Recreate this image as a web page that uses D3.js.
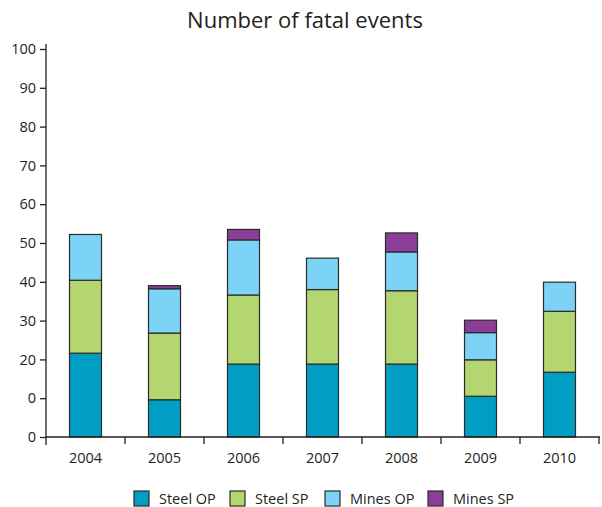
<!DOCTYPE html>
<html>
<head>
<meta charset="utf-8">
<script src="https://cdn.jsdelivr.net/npm/d3@7"></script>
<style>
  html, body { margin: 0; padding: 0; background: #fff; }
  svg { display: block; font-family: "Open Sans", "DejaVu Sans", sans-serif; }
</style>
</head>
<body>
<svg id="chart" width="602" height="507"></svg>
<script>
// Fatal events per year, split by sector and employment type
const years = ["2004", "2005", "2006", "2007", "2008", "2009", "2010"];
const seriesNames = ["Steel OP", "Steel SP", "Mines OP", "Mines SP"];
const steelOP = [21.6, 9.6, 18.8, 18.8, 18.8, 10.5, 16.7];
const steelSP = [18.8, 17.2, 17.8, 19.2, 18.9, 9.4, 15.7];
const minesOP = [11.8, 11.4, 14.2, 8.1, 10.0, 7.0, 7.5];
const minesSP = [0, 0.8, 2.7, 0, 4.9, 3.2, 0];
const yTickValues = [0, 10, 20, 30, 40, 50, 60, 70, 80, 90, 100];
const yTickLabels = ["0", "0", "20", "30", "40", "50", "60", "70", "80", "90", "100"];
const colors = ["#009ec3", "#b4d670", "#7dd3f6", "#8c3d97"];

const svg = d3.select("#chart");
const plotLeft = 46, plotRight = 599, plotTop = 49, plotBottom = 437;

const rows = years.map((yr, i) => ({
  year: yr,
  "Steel OP": steelOP[i],
  "Steel SP": steelSP[i],
  "Mines OP": minesOP[i],
  "Mines SP": minesSP[i]
}));
const stacked = d3.stack().keys(seriesNames)(rows);

const x = d3.scaleBand().domain(years).range([plotLeft, plotRight]).paddingInner(0).paddingOuter(0);
const y = d3.scaleLinear().domain([0, 100]).range([plotBottom, plotTop]);
const barW = 32;

// Title
svg.append("text")
  .attr("x", 305).attr("y", 28)
  .attr("text-anchor", "middle")
  .attr("font-size", 22)
  .attr("fill", "#231f20")
  .text("Number of fatal events");

// Stacked bars
const color = d3.scaleOrdinal().domain(seriesNames).range(colors);
svg.append("g").selectAll("g")
  .data(stacked).join("g")
  .attr("fill", d => color(d.key))
  .selectAll("rect")
  .data(d => d.filter(s => s[1] - s[0] > 0))
  .join("rect")
  .attr("x", d => x(d.data.year) + (x.bandwidth() - barW) / 2)
  .attr("y", d => y(d[1]))
  .attr("width", barW)
  .attr("height", d => y(d[0]) - y(d[1]))
  .attr("stroke", "#2b2b2b")
  .attr("stroke-width", 1.2);

// Y axis
const yAxis = svg.append("g")
  .attr("transform", `translate(${plotLeft},0)`)
  .call(d3.axisLeft(y).tickValues(yTickValues)
    .tickFormat((d, i) => yTickLabels[i]).tickSize(6).tickSizeOuter(0));
yAxis.select(".domain").remove();
yAxis.append("line")
  .attr("x1", 0).attr("x2", 0).attr("y1", 44).attr("y2", 445)
  .attr("stroke", "#231f20").attr("stroke-width", 1.3);
yAxis.selectAll(".tick line").attr("stroke", "#231f20").attr("stroke-width", 1.3);
yAxis.selectAll(".tick text")
  .attr("x", -10)
  .attr("font-size", 14.5)
  .attr("font-family", "\"Open Sans\", \"DejaVu Sans\", sans-serif")
  .attr("fill", "#231f20");

// X axis with ticks at category boundaries
const xg = svg.append("g").attr("transform", `translate(0,${plotBottom})`);
xg.append("line")
  .attr("x1", plotLeft).attr("x2", plotRight + 1).attr("y1", 0).attr("y2", 0)
  .attr("stroke", "#231f20").attr("stroke-width", 1.3);
const boundaries = years.map(yr => x(yr)).concat([x(years[years.length - 1]) + x.bandwidth()]);
xg.selectAll("line.bt").data(boundaries.slice(1)).join("line")
  .attr("class", "bt")
  .attr("x1", d => d).attr("x2", d => d).attr("y1", 0).attr("y2", 7)
  .attr("stroke", "#231f20").attr("stroke-width", 1.3);
xg.selectAll("text").data(years).join("text")
  .attr("x", d => x(d) + x.bandwidth() / 2)
  .attr("y", 26)
  .attr("text-anchor", "middle")
  .attr("font-size", 14.5)
  .attr("fill", "#231f20")
  .text(d => d);

// Legend
const legendX = [134, 230, 325, 428];
const lg = svg.append("g").selectAll("g").data(seriesNames).join("g")
  .attr("transform", (d, i) => `translate(${legendX[i]},491)`);
lg.append("rect")
  .attr("width", 15).attr("height", 15)
  .attr("fill", d => color(d))
  .attr("stroke", "#2b2b2b").attr("stroke-width", 1.2);
lg.append("text")
  .attr("x", 25).attr("y", 13)
  .attr("font-size", 14.5)
  .attr("fill", "#231f20")
  .text(d => d);
</script>
</body>
</html>
